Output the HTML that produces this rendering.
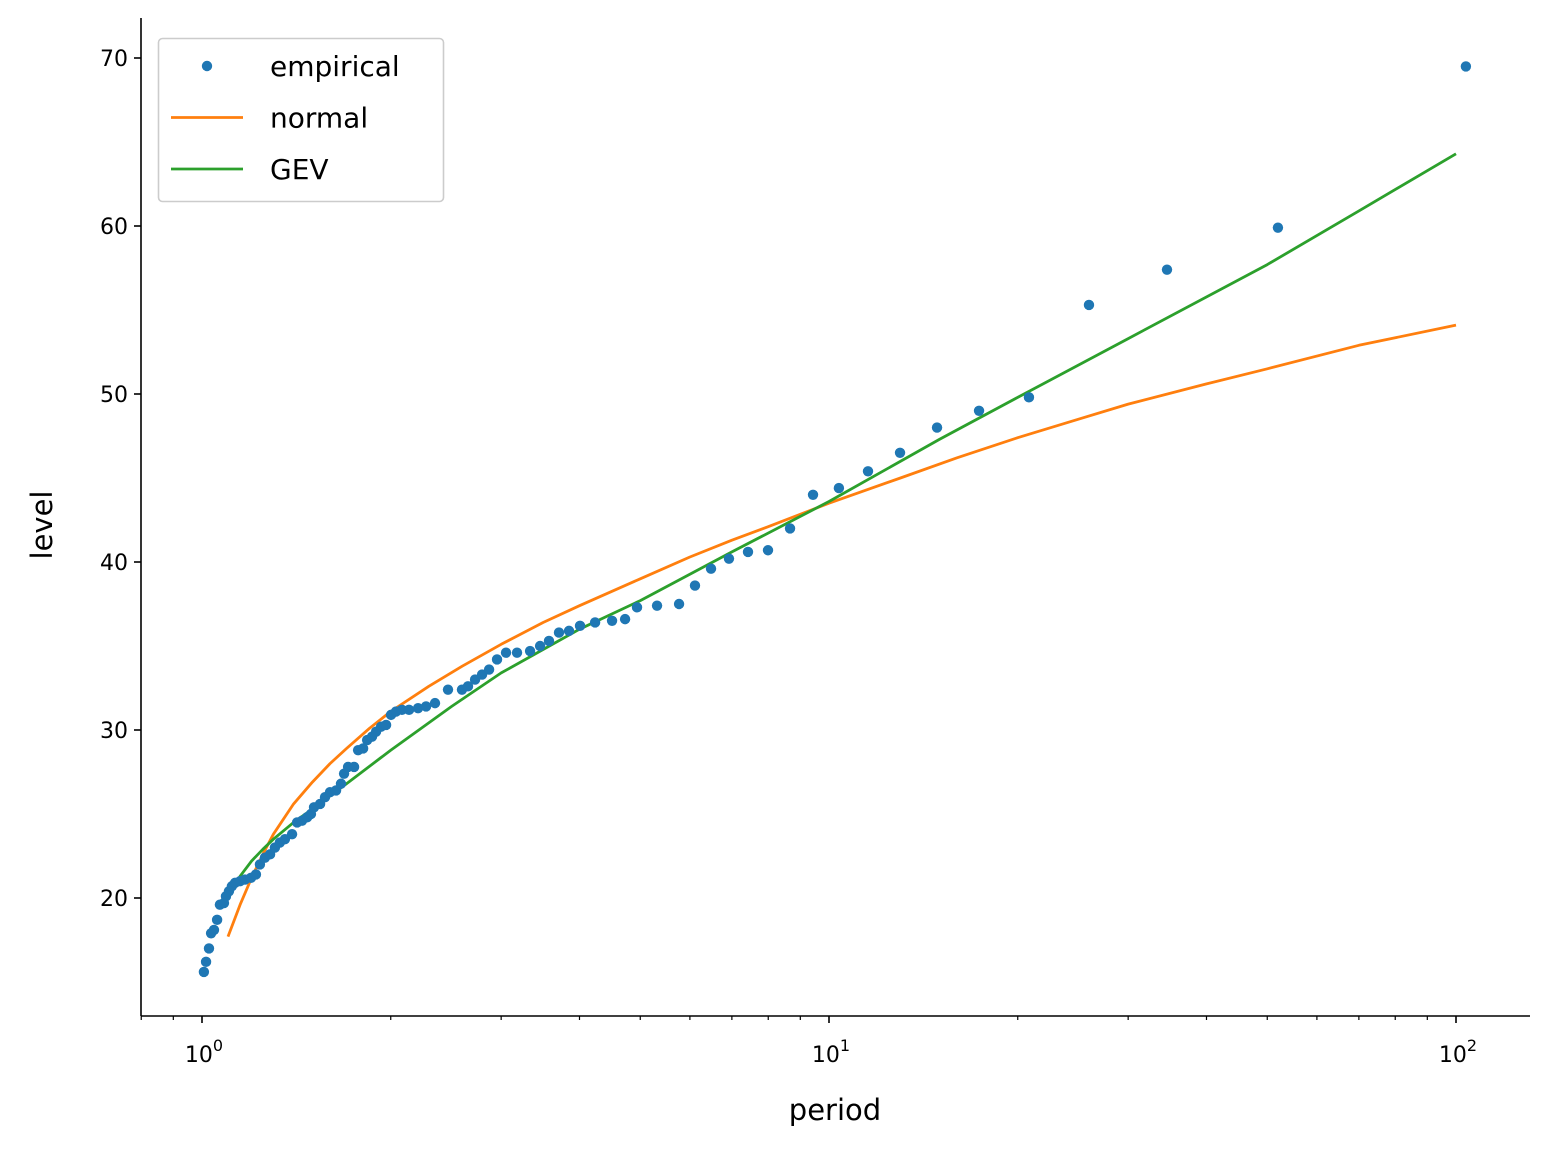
<!DOCTYPE html>
<html><head><meta charset="utf-8"><style>
body{margin:0;background:#fff;}
svg text{font-family:"DejaVu Sans","Liberation Sans",sans-serif;}
</style></head><body>
<svg id="chart" width="1550" height="1150" xmlns="http://www.w3.org/2000/svg">
<rect width="1550" height="1150" fill="#fff"/>
<g id="plot"></g>
</svg>
<script>
const empPeriods=[1.007,1.015,1.026,1.034,1.045,1.057,1.068,1.084,1.092,1.104,1.116,1.129,1.15,1.171,1.197,1.219,1.237,1.26,1.284,1.307,1.331,1.356,1.392,1.418,1.444,1.471,1.492,1.509,1.543,1.571,1.6,1.636,1.666,1.685,1.71,1.748,1.774,1.807,1.834,1.867,1.895,1.93,1.966,2.002,2.039,2.084,2.139,2.211,2.277,2.353,2.468,2.598,2.656,2.726,2.797,2.87,2.955,3.054,3.18,3.336,3.461,3.576,3.71,3.849,4.008,4.236,4.508,4.729,4.941,5.318,5.766,6.113,6.484,6.926,7.427,7.993,8.667,9.43,10.37,11.54,12.98,14.87,17.35,20.84,25.98,34.6,52.0,103.7];
const empLevels=[15.6,16.2,17.0,17.9,18.1,18.7,19.6,19.7,20.1,20.4,20.7,20.9,21.0,21.1,21.2,21.4,22.0,22.4,22.6,23.0,23.3,23.5,23.8,24.5,24.6,24.8,25.0,25.4,25.6,26.0,26.3,26.4,26.8,27.4,27.8,27.8,28.8,28.9,29.4,29.6,29.9,30.2,30.3,30.9,31.1,31.2,31.2,31.3,31.4,31.6,32.4,32.4,32.6,33.0,33.3,33.6,34.2,34.6,34.6,34.7,35.0,35.3,35.8,35.9,36.2,36.4,36.5,36.6,37.3,37.4,37.5,38.6,39.6,40.2,40.6,40.7,42.0,44.0,44.4,45.4,46.5,48.0,49.0,49.8,55.3,57.4,59.9,69.5];
const normalPeriods=[1.1,1.15,1.2,1.25,1.3,1.4,1.5,1.6,1.7,1.85,2,2.3,2.6,3,3.5,4,5,6,7,8,10,13,16,20,25,30,40,50,70,100];
const normalLevels=[17.7,19.6,21.2,22.6,23.8,25.6,26.9,28.0,28.9,30.1,31.1,32.6,33.8,35.1,36.4,37.4,39.0,40.3,41.3,42.1,43.5,45.0,46.2,47.4,48.5,49.4,50.6,51.5,52.9,54.1];
const gevPeriods=[1.1,1.15,1.2,1.25,1.3,1.4,1.5,1.7,2,2.5,3,4,5,7,10,15,20,30,50,70,100];
const gevLevels=[20.1,21.3,22.2,22.9,23.5,24.5,25.3,26.8,28.8,31.4,33.4,36.0,37.7,40.6,43.6,47.3,49.8,53.3,57.7,60.9,64.3];
const yTicks=[20,30,40,50,60,70];
const xMajor=[1,10,100];
const xMajorExp=["0","1","2"];

const L=141,R=1530,T=18,B=1016;
const x=p=>202+627*Math.log10(p);
const y=v=>898-(v-20)*16.8;
const NS="http://www.w3.org/2000/svg";
const g=document.getElementById('plot');
function mk(tag,attrs,parent){const e=document.createElementNS(NS,tag);for(const k in attrs)e.setAttribute(k,attrs[k]);(parent||g).appendChild(e);return e;}

let e;
e=mk('line',{x1:L,y1:T,x2:L,y2:B,stroke:'#000','stroke-width':1.6});


e=mk('line',{x1:L,y1:B,x2:R,y2:B,stroke:'#000','stroke-width':1.6});



yTicks.forEach(v=>{
 const t=mk('line',{x1:L-7,x2:L,y1:y(v),y2:y(v),stroke:'#000','stroke-width':1.6});
 
 
 const tx=mk('text',{x:L-13,y:y(v)+8,'text-anchor':'end','font-size':22,fill:'#000'});
 tx.textContent=v;
 
 
});
xMajor.forEach((p,i)=>{
 const t=mk('line',{x1:x(p),x2:x(p),y1:B,y2:B+7,stroke:'#000','stroke-width':1.6});
 
 
 const tx=mk('text',{x:x(p)+2,y:B+46,'text-anchor':'middle','font-size':22,fill:'#000'});
 
 
 const base=mk('tspan',{},tx);base.textContent='10';
 const sp=mk('tspan',{'font-size':16,dy:-11},tx);
 sp.textContent=xMajorExp[i];
});
for(let d=-1;d<=2;d++)for(let m=2;m<=9;m++){
 const p=m*Math.pow(10,d);
 if(x(p)<L||x(p)>R)continue;
 const t=mk('line',{x1:x(p),x2:x(p),y1:B,y2:B+4,stroke:'#000','stroke-width':1.2});
 
 
}
e=mk('text',{x:835,y:1120,'text-anchor':'middle','font-size':29,fill:'#000'});e.textContent='period';


e=mk('text',{x:52,y:525,'text-anchor':'middle','font-size':29,fill:'#000',transform:'rotate(-90 52 525)'});e.textContent='level';



const defs=mk('defs',{});
const cp=mk('clipPath',{id:'clip'},defs);mk('rect',{x:L,y:T,width:R-L,height:B-T},cp);

function line(ps,ls,col,name){
 const d=ps.map((p,i)=>(i?'L':'M')+x(p).toFixed(1)+' '+y(ls[i]).toFixed(1)).join(' ');
 const l=mk('path',{d:d,fill:'none',stroke:col,'stroke-width':2.8,'stroke-linejoin':'round','clip-path':'url(#clip)'});
 
 
}
line(normalPeriods,normalLevels,'#ff7f0e','normal-fit-line');
line(gevPeriods,gevLevels,'#2ca02c','gev-fit-line');
empPeriods.forEach((p,i)=>{
 const c=mk('circle',{cx:x(p),cy:y(empLevels[i]),r:5.2,fill:'#1f77b4'});
 
 
});

const lg=mk('g',{});


mk('rect',{x:158.5,y:38.5,width:285,height:163,rx:4,fill:'#fff','fill-opacity':0.8,stroke:'#ccc','stroke-width':1.6},lg);
const items=[['empirical','dot','#1f77b4'],['normal','line','#ff7f0e'],['GEV','line','#2ca02c']];
items.forEach((it,i)=>{
 const cy=66+i*51.5;
 const ge=mk('g',{},lg);
 
 
 if(it[1]=='dot')mk('circle',{cx:207,cy:cy,r:5.2,fill:it[2]},ge);
 else mk('line',{x1:171,x2:243,y1:cy,y2:cy,stroke:it[2],'stroke-width':2.8},ge);
 const t=mk('text',{x:270,y:cy+10,'font-size':28,fill:'#000'},ge);t.textContent=it[0];
});
</script>
</body></html>
